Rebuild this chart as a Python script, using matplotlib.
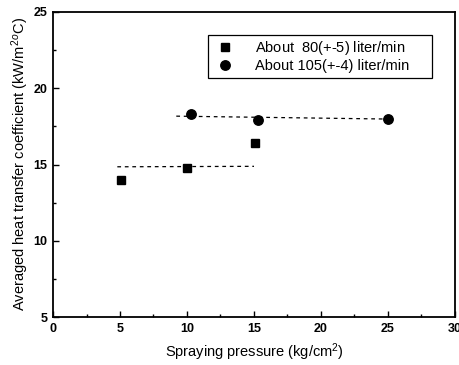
import matplotlib
matplotlib.use("Agg")
import matplotlib.pyplot as plt
from matplotlib.patches import Rectangle
from matplotlib.ticker import MultipleLocator

plt.rcParams['font.family'] = ['Liberation Sans', 'DejaVu Sans']
plt.rcParams['mathtext.fontset'] = 'custom'
plt.rcParams['mathtext.rm'] = 'Liberation Sans'
plt.rcParams['mathtext.it'] = 'Liberation Sans:italic'

# Measured points, two flow-rate groups
pressure_80 = [5.1, 10.0, 15.1]
htc_80 = [14.0, 14.8, 16.4]
pressure_105 = [10.3, 15.3, 25.0]
htc_105 = [18.3, 17.9, 18.0]

# Dashed trend lines (start/end)
trend_80_x = [4.8, 15.0]
trend_80_y = [14.85, 14.88]
trend_105_x = [9.2, 25.0]
trend_105_y = [18.17, 17.98]

fig = plt.figure(figsize=(4.6, 3.65), dpi=100)
ax = fig.add_axes([53 / 460, 1 - 317 / 365, 402 / 460, 305 / 365])

ax.plot(trend_80_x, trend_80_y, color='black', linestyle=(0, (3, 3)), linewidth=0.9)
ax.plot(trend_105_x, trend_105_y, color='black', linestyle=(0, (3, 3)), linewidth=0.9)
ax.plot(pressure_80, htc_80, 's', color='black', markersize=6.3,
        label='About  $\\mathit{80}$(+-5) liter/min')
ax.plot(pressure_105, htc_105, 'o', color='black', markersize=6.8,
        label='About 105(+-4) liter/min')

ax.set_xlim(0, 30)
ax.set_ylim(5, 25)
ax.xaxis.set_major_locator(MultipleLocator(5))
ax.xaxis.set_minor_locator(MultipleLocator(2.5))
ax.yaxis.set_major_locator(MultipleLocator(5))
ax.yaxis.set_minor_locator(MultipleLocator(2.5))
ax.tick_params(which='both', direction='in', top=False, right=False,
               labelsize=9)
ax.tick_params(which='major', length=4, width=1, pad=4)
ax.tick_params(which='minor', length=2.5, width=1)
for lbl in ax.get_xticklabels() + ax.get_yticklabels():
    lbl.set_fontweight('bold')
for s in ax.spines.values():
    s.set_linewidth(1.3)

ax.set_xlabel('Spraying pressure (kg/cm$^2$)', fontsize=10.5, labelpad=5)
ax.set_ylabel('Averaged heat transfer coefficient (kW/m$^2$$^o$C)', fontsize=10.5, labelpad=2)

# legend without its own frame; a wider box is drawn around it
leg = ax.legend(loc='upper left', bbox_to_anchor=(0.405, 0.91),
                fontsize=10.5, frameon=False, handletextpad=1.5,
                borderpad=0, borderaxespad=0, labelspacing=0.12,
                handlelength=1.2)
ax.add_patch(Rectangle((0.386, 0.784), 0.558, 0.141, transform=ax.transAxes,
                       facecolor='none', edgecolor='black', linewidth=0.9,
                       zorder=5))

fig.savefig('out.png', dpi=100)
